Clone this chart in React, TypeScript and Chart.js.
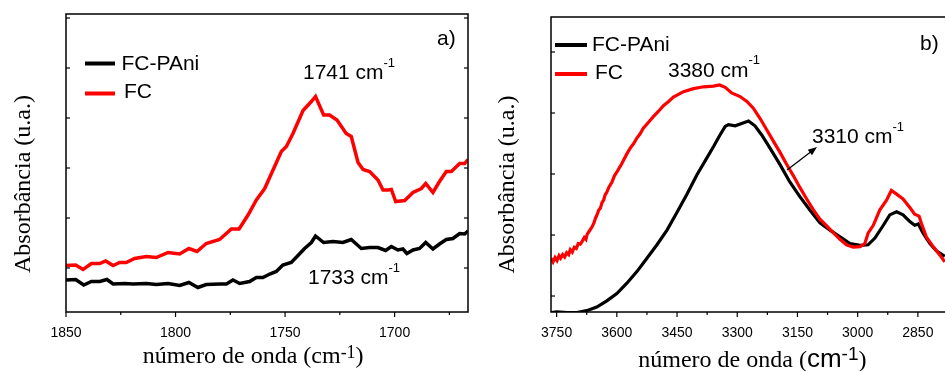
import React, { useEffect, useRef } from "react";
import { Chart, registerables } from "chart.js";
Chart.register(...registerables);

// ---------- Panel a) data (wavenumber, cm-1 ; absorbance, a.u.) ----------
const A_FC_X = [1850.0,1845.6,1842.2,1838.4,1834.6,1831.9,1828.5,1825.5,1822.5,1818.7,1813.3,1808.8,1803.4,1798.1,1793.9,1790.2,1786.0,1779.9,1774.5,1771.0,1766.9,1763.1,1759.3,1755.5,1751.7,1749.4,1746.4,1741.8,1738.0,1736.1,1732.4,1729.7,1726.3,1722.1,1719.8,1716.7,1714.4,1711.4,1707.6,1705.3,1703.0,1701.5,1699.5,1695.4,1691.6,1687.8,1685.8,1682.5,1679.5,1676.4,1674.1,1670.3,1668.0,1666.5];
const A_FC_Y = [0.05,0.06,-0.03,0.09,0.09,0.14,0.05,0.11,0.11,0.19,0.23,0.21,0.31,0.28,0.39,0.33,0.49,0.57,0.78,0.78,1.06,1.36,1.59,1.96,2.33,2.43,2.69,3.15,3.33,3.43,3.06,3.06,2.96,2.69,2.63,2.11,1.97,1.93,1.76,1.56,1.56,1.57,1.33,1.35,1.51,1.59,1.69,1.51,1.73,1.93,1.93,2.09,2.09,2.17];
const A_PANI_X = [1850.0,1845.6,1841.9,1838.4,1834.6,1831.3,1828.5,1823.2,1819.4,1813.3,1808.8,1803.4,1798.1,1793.9,1789.8,1786.0,1779.9,1776.8,1773.8,1770.7,1766.2,1763.1,1760.1,1757.0,1754.0,1751.0,1747.2,1744.1,1741.1,1738.0,1736.1,1732.4,1728.1,1723.6,1719.8,1715.2,1711.4,1707.6,1704.1,1701.5,1698.5,1696.2,1694.4,1691.6,1688.6,1685.8,1682.5,1679.5,1676.4,1673.4,1670.3,1668.0,1666.5];
const A_PANI_Y = [-0.24,-0.23,-0.34,-0.27,-0.27,-0.23,-0.32,-0.31,-0.32,-0.31,-0.33,-0.31,-0.35,-0.29,-0.39,-0.33,-0.32,-0.32,-0.24,-0.31,-0.27,-0.19,-0.19,-0.12,-0.07,0.06,0.11,0.25,0.39,0.51,0.64,0.51,0.53,0.51,0.57,0.39,0.41,0.41,0.35,0.43,0.36,0.38,0.29,0.36,0.39,0.51,0.38,0.48,0.57,0.59,0.69,0.68,0.74];
const A_X_TICKS = [1850, 1800, 1750, 1700];
const A_X_MINOR = [1825, 1775, 1725, 1675];
const A_Y_TICKS = [0, 1, 2, 3, 4, 5];

// ---------- Panel b) data ----------
const B_FC_X = [3764,3759,3754,3749,3744,3740,3735,3730,3725,3720,3716,3711,3706,3701,3696,3691,3686,3681,3677,3674,3668,3662,3657,3653,3650,3645,3641,3637,3633,3629,3625,3620,3612,3606,3600,3594,3590,3583,3575,3567,3558,3550,3542,3534,3521,3509,3496,3484,3471,3459,3434,3409,3384,3359,3344,3330,3314,3293,3276,3260,3243,3227,3210,3193,3177,3160,3144,3127,3111,3094,3077,3061,3044,3028,3011,2994,2982,2974,2961,2945,2928,2916,2903,2887,2870,2858,2847,2841,2829,2812,2795,2783];
const B_FC_Y = [0.62,0.56,0.63,0.58,0.66,0.62,0.68,0.64,0.71,0.68,0.76,0.72,0.80,0.78,0.86,0.85,0.90,0.96,0.93,1.01,1.07,1.13,1.20,1.28,1.32,1.41,1.44,1.53,1.57,1.66,1.70,1.78,1.87,1.97,2.03,2.10,2.14,2.23,2.33,2.42,2.50,2.59,2.66,2.75,2.85,2.94,3.03,3.12,3.19,3.26,3.35,3.40,3.43,3.44,3.46,3.42,3.33,3.27,3.19,3.08,2.91,2.73,2.54,2.35,2.16,1.97,1.78,1.59,1.42,1.26,1.15,1.04,0.93,0.84,0.80,0.81,0.86,1.03,1.16,1.41,1.57,1.73,1.67,1.59,1.45,1.34,1.31,1.19,0.97,0.81,0.67,0.56];
const B_PANI_X = [3764,3749,3724,3699,3675,3650,3625,3600,3575,3550,3525,3500,3475,3451,3426,3401,3376,3359,3343,3330,3322,3305,3289,3272,3256,3239,3218,3193,3169,3144,3119,3094,3069,3044,3019,2994,2974,2957,2936,2920,2903,2887,2870,2858,2849,2837,2820,2804,2783];
const B_PANI_Y = [-0.27,-0.26,-0.27,-0.27,-0.24,-0.18,-0.08,0.04,0.21,0.40,0.62,0.84,1.08,1.36,1.66,1.98,2.26,2.45,2.64,2.78,2.81,2.79,2.83,2.87,2.79,2.64,2.42,2.15,1.87,1.63,1.41,1.20,1.08,0.97,0.86,0.83,0.84,0.95,1.16,1.33,1.38,1.33,1.22,1.16,1.18,1.03,0.86,0.74,0.65];
const B_X_TICKS = [3750, 3600, 3450, 3300, 3150, 3000, 2850];
const B_X_MINOR = [3675, 3525, 3375, 3225, 3075, 2925, 2775];
const B_Y_TICKS = [0, 1, 2, 3, 4];

// ---------- Text ----------
const SERIES_LABELS = ["FC-PAni", "FC"];
const X_TITLE = "número de onda (";
const Y_TITLE = "Absorbância (u.a.)";
const UNIT = "cm";
const UNIT_SUP = "-1";
const A_PEAKS = ["1741", "1733"];
const B_PEAKS = ["3380", "3310"];

// ---------- Styles ----------
const RED = "#ff0000";
const BLACK = "#000000";
const SANS = '"Liberation Sans", Arial, sans-serif';
const SERIF = '"Liberation Serif", "Times New Roman", serif';
const H = 371;

type Seg = { t: string; f: string; dy?: number };

function drawSegs(ctx: CanvasRenderingContext2D, segs: Seg[], x: number, y: number) {
  let cx = x;
  for (const s of segs) {
    ctx.font = s.f;
    ctx.fillText(s.t, cx, y - (s.dy || 0));
    cx += ctx.measureText(s.t).width;
  }
}
function peakSegs(num: string): Seg[] {
  return [
    { t: num + " " + UNIT, f: `21px ${SANS}` },
    { t: UNIT_SUP, f: `13px ${SANS}`, dy: 12.5 },
  ];
}
function legendLine(ctx: CanvasRenderingContext2D, x1: number, x2: number, y: number, color: string) {
  ctx.save();
  ctx.strokeStyle = color;
  ctx.lineWidth = 4;
  ctx.beginPath();
  ctx.moveTo(x1, y);
  ctx.lineTo(x2, y);
  ctx.stroke();
  ctx.restore();
}
function yTitle(ctx: CanvasRenderingContext2D, x: number, y: number) {
  ctx.save();
  ctx.translate(x, y);
  ctx.rotate(-Math.PI / 2);
  ctx.textAlign = "center";
  ctx.textBaseline = "middle";
  ctx.font = `24px ${SERIF}`;
  ctx.fillText(Y_TITLE, 0, 0);
  ctx.restore();
}

interface Panel {
  id: string;
  canvasLeft: number;
  canvasWidth: number;
  area: { left: number; right: number; top: number; bottom: number };
  xMin: number; xMax: number; yMin: number; yMax: number;
  xTicks: number[]; xMinor: number[]; yTicks: number[];
  fcX: number[]; fcY: number[]; paniX: number[]; paniY: number[];
  lineWidth: number;
  decorate: (ctx: CanvasRenderingContext2D) => void;
}

const PANEL_A: Panel = {
  id: "a",
  canvasLeft: 0,
  canvasWidth: 480,
  area: { left: 66, right: 468, top: 14, bottom: 312 },
  xMin: 1666.5, xMax: 1850, yMin: -0.88, yMax: 5.08,
  xTicks: A_X_TICKS, xMinor: A_X_MINOR, yTicks: A_Y_TICKS,
  fcX: A_FC_X, fcY: A_FC_Y, paniX: A_PANI_X, paniY: A_PANI_Y,
  lineWidth: 3.5,
  decorate(ctx) {
    legendLine(ctx, 85, 115, 63.5, BLACK);
    drawSegs(ctx, [{ t: SERIES_LABELS[0], f: `21px ${SANS}` }], 121.5, 70);
    legendLine(ctx, 85, 115, 93.5, RED);
    drawSegs(ctx, [{ t: SERIES_LABELS[1], f: `21px ${SANS}` }], 124, 98);
    drawSegs(ctx, [{ t: "a)", f: `21px ${SANS}` }], 437, 45);
    drawSegs(ctx, peakSegs(A_PEAKS[0]), 303, 79);
    drawSegs(ctx, peakSegs(A_PEAKS[1]), 308, 284);
    drawSegs(ctx, [
      { t: X_TITLE + UNIT, f: `24px ${SERIF}` },
      { t: UNIT_SUP, f: `18px ${SERIF}`, dy: 5.5 },
      { t: ")", f: `24px ${SERIF}` },
    ], 142.7, 363);
    yTitle(ctx, 24, 184);
  },
};

const PANEL_B: Panel = {
  id: "b",
  canvasLeft: 480,
  canvasWidth: 500,
  area: { left: 551, right: 958, top: 17, bottom: 312 },
  xMin: 2750, xMax: 3764, yMin: -0.262, yMax: 4.574,
  xTicks: B_X_TICKS, xMinor: B_X_MINOR, yTicks: B_Y_TICKS,
  fcX: B_FC_X, fcY: B_FC_Y, paniX: B_PANI_X, paniY: B_PANI_Y,
  lineWidth: 3.2,
  decorate(ctx) {
    legendLine(ctx, 555, 587, 45, BLACK);
    drawSegs(ctx, [{ t: SERIES_LABELS[0], f: `21px ${SANS}` }], 592, 51);
    legendLine(ctx, 555, 587, 74, RED);
    drawSegs(ctx, [{ t: SERIES_LABELS[1], f: `21px ${SANS}` }], 595, 79);
    drawSegs(ctx, [{ t: "b)", f: `21px ${SANS}` }], 920, 50);
    drawSegs(ctx, peakSegs(B_PEAKS[0]), 668, 76.5);
    drawSegs(ctx, peakSegs(B_PEAKS[1]), 812, 143);
    // arrow
    const x1 = 787, y1 = 170, x2 = 817, y2 = 147;
    const ang = Math.atan2(y2 - y1, x2 - x1);
    ctx.save();
    ctx.strokeStyle = BLACK;
    ctx.fillStyle = BLACK;
    ctx.lineWidth = 1.3;
    ctx.beginPath();
    ctx.moveTo(x1, y1);
    ctx.lineTo(x2 - 6 * Math.cos(ang), y2 - 6 * Math.sin(ang));
    ctx.stroke();
    ctx.beginPath();
    ctx.moveTo(x2, y2);
    ctx.lineTo(x2 - 9 * Math.cos(ang) + 3.5 * Math.sin(ang), y2 - 9 * Math.sin(ang) - 3.5 * Math.cos(ang));
    ctx.lineTo(x2 - 9 * Math.cos(ang) - 3.5 * Math.sin(ang), y2 - 9 * Math.sin(ang) + 3.5 * Math.cos(ang));
    ctx.closePath();
    ctx.fill();
    ctx.restore();
    drawSegs(ctx, [
      { t: X_TITLE, f: `24px ${SERIF}` },
      { t: UNIT, f: `26px ${SANS}` },
      { t: UNIT_SUP, f: `19px ${SANS}`, dy: 6.5 },
      { t: ")", f: `24px ${SERIF}` },
    ], 638.3, 366.5);
    yTitle(ctx, 507.5, 184.5);
  },
};

function buildConfig(p: Panel): any {
  const pts = (xs: number[], ys: number[]) =>
    xs.slice(0, Math.min(xs.length, ys.length)).map((x, i) => ({ x, y: ys[i] }));
  const frame = {
    id: "frame_" + p.id,
    afterDraw(chart: any) {
      const { ctx, chartArea: a, scales } = chart;
      const xs = scales.x, ys = scales.y;
      ctx.save();
      ctx.strokeStyle = BLACK;
      ctx.lineWidth = 1.5;
      ctx.strokeRect(a.left, a.top, a.right - a.left, a.bottom - a.top);
      ctx.lineWidth = 1.2;
      const seg = (x1: number, y1: number, x2: number, y2: number) => {
        ctx.beginPath(); ctx.moveTo(x1, y1); ctx.lineTo(x2, y2); ctx.stroke();
      };
      for (const v of p.xTicks) { const x = xs.getPixelForValue(v); seg(x, a.bottom, x, a.bottom + 5); }
      for (const v of p.xMinor) { const x = xs.getPixelForValue(v); seg(x, a.bottom, x, a.bottom + 3); }
      for (const v of p.yTicks) {
        const y = ys.getPixelForValue(v);
        seg(a.left, y, a.left + 4, y);
        seg(a.right, y, a.right - 4, y);
      }
      ctx.translate(-p.canvasLeft, 0);
      ctx.fillStyle = BLACK;
      ctx.textAlign = "left";
      ctx.textBaseline = "alphabetic";
      p.decorate(ctx);
      ctx.restore();
    },
  };
  return {
    type: "line",
    data: {
      datasets: [
        { label: SERIES_LABELS[1], data: pts(p.fcX, p.fcY), borderColor: RED, borderWidth: p.lineWidth, pointRadius: 0, tension: 0, fill: false },
        { label: SERIES_LABELS[0], data: pts(p.paniX, p.paniY), borderColor: BLACK, borderWidth: p.lineWidth, pointRadius: 0, tension: 0, fill: false },
      ],
    },
    options: {
      animation: false,
      responsive: false,
      maintainAspectRatio: false,
      events: [],
      layout: {
        padding: {
          left: 0,
          top: p.area.top,
          right: p.canvasLeft + p.canvasWidth - p.area.right,
          bottom: 0,
        },
      },
      plugins: { legend: { display: false }, tooltip: { enabled: false }, title: { display: false } },
      scales: {
        x: {
          type: "linear",
          reverse: true,
          min: p.xMin,
          max: p.xMax,
          afterBuildTicks: (s: any) => { s.ticks = p.xTicks.map((v) => ({ value: v })); },
          afterFit: (s: any) => { s.height = H - p.area.bottom; },
          grid: { display: false, drawTicks: false },
          border: { display: false },
          ticks: {
            autoSkip: false,
            maxRotation: 0,
            padding: 13,
            color: BLACK,
            font: { family: SANS, size: 14 },
            callback: (v: any) => String(v),
          },
        },
        y: {
          type: "linear",
          min: p.yMin,
          max: p.yMax,
          afterBuildTicks: (s: any) => { s.ticks = p.yTicks.map((v) => ({ value: v })); },
          afterFit: (s: any) => { s.width = p.area.left - p.canvasLeft; },
          grid: { display: false, drawTicks: false },
          border: { display: false },
          ticks: { display: false },
        },
      },
    },
    plugins: [frame],
  };
}

function PanelChart({ p }: { p: Panel }) {
  const ref = useRef<HTMLCanvasElement>(null);
  useEffect(() => {
    const chart = new Chart(ref.current as HTMLCanvasElement, buildConfig(p));
    return () => chart.destroy();
  }, [p]);
  return (
    <canvas
      ref={ref}
      width={p.canvasWidth}
      height={H}
      style={{ position: "absolute", left: p.canvasLeft, top: 0, width: p.canvasWidth, height: H }}
    />
  );
}

export default function App() {
  return (
    <div style={{ position: "fixed", left: 0, top: 0, width: 945, height: H, overflow: "hidden", background: "#fff" }}>
      <PanelChart p={PANEL_A} />
      <PanelChart p={PANEL_B} />
    </div>
  );
}
